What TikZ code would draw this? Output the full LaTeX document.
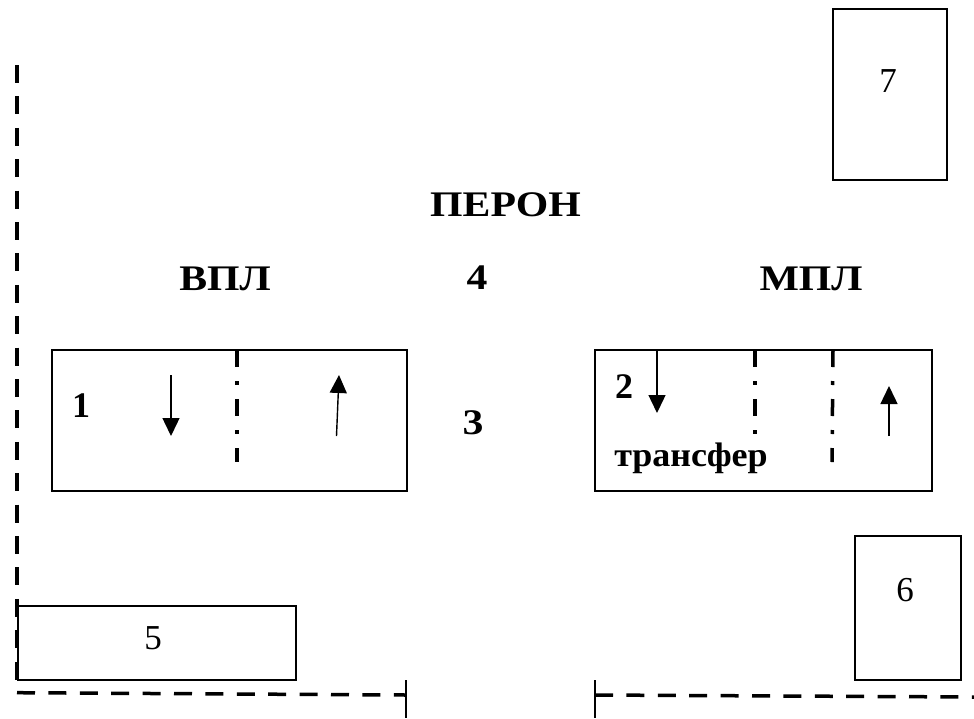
\documentclass[tikz,border=0pt]{standalone}
\usepackage{fontspec}
\setmainfont{Liberation Serif}
\newfontfamily\wideserif[FakeStretch=1.16]{Liberation Serif}
\newfontfamily\midserif[FakeStretch=1.06]{Liberation Serif}
\usetikzlibrary{arrows.meta}
\tikzset{
  box/.style={draw=black,line width=2pt,inner sep=0pt,outer sep=0pt,anchor=north west,fill=none},
  titletext/.style={font=\wideserif\bfseries\fontsize{36}{36}\selectfont,inner sep=0pt,anchor=base},
  boldnum/.style={font=\bfseries\fontsize{36}{36}\selectfont,inner sep=0pt,anchor=base},
  plainnum/.style={font=\fontsize{35}{35}\selectfont,inner sep=0pt,anchor=base},
  transfertext/.style={font=\midserif\bfseries\fontsize{34}{34}\selectfont,inner sep=0pt,anchor=base},
  boundary/.style={line width=3.5pt,dash pattern=on 18pt off 13.4pt},
  tick/.style={line width=2pt},
  zone/.style={line width=3.5pt,dash pattern=on 17pt off 14pt on 4pt off 14pt},
  flow/.style={line width=1.4pt,-{Triangle[length=18pt,width=17pt]}},
}
\begin{document}
\begin{tikzpicture}[x=1pt,y=-1pt]
\useasboundingbox[fill=white] (0,0) rectangle (974,718);
% boxes
\node[box,minimum width=355pt,minimum height=141pt] (b1) at (52,350) {};
\node[box,minimum width=337pt,minimum height=141pt] (b2) at (595,350) {};
\node[box,minimum width=278pt,minimum height=74pt] (b5) at (18,606) {};
\node[box,minimum width=106pt,minimum height=144pt] (b6) at (855,536) {};
\node[box,minimum width=114pt,minimum height=171pt] (b7) at (833,9) {};
% coordinates
\coordinate (lt) at (17,65);
\coordinate (lb) at (17,680);
\coordinate (hl) at (17,692.7);
\coordinate (hm) at (406,695);
\coordinate (hn) at (595,695);
\coordinate (hr) at (974,697);
\coordinate (t1) at (406,680);
\coordinate (t2) at (406,718);
\coordinate (t3) at (595,680);
\coordinate (t4) at (595,718);
\coordinate (z1a) at (237,350);
\coordinate (z1b) at (237,462);
\coordinate (z2a) at (755,350);
\coordinate (z2b) at (755,434);
\coordinate (z3a) at (833,350);
\coordinate (z3b) at (832,462);
\coordinate (a1a) at (171,375);
\coordinate (a1b) at (171,436);
\coordinate (a2a) at (336.5,436);
\coordinate (a2b) at (339,375);
\coordinate (a3a) at (657,350);
\coordinate (a3b) at (657,413);
\coordinate (a4a) at (889,436);
\coordinate (a4b) at (889,386);
% boundary
\draw[boundary] (lt) -- (lb);
\draw[boundary] (hl) -- (hm);
\draw[boundary] (hn) -- (hr);
\draw[tick] (t1) -- (t2);
\draw[tick] (t3) -- (t4);
% zones
\draw[zone] (z1a) -- (z1b);
\draw[zone] (z2a) -- (z2b);
\draw[zone] (z3a) -- (z3b);
% arrows
\draw[flow] (a1a) -- (a1b);
\draw[flow] (a2a) -- (a2b);
\draw[flow] (a3a) -- (a3b);
\draw[flow] (a4a) -- (a4b);
% labels
\node[titletext] (peron) at (505.5,216) {ПЕРОН};
\node[titletext] (vpl) at (225,290) {ВПЛ};
\node[titletext] (mpl) at (811,290) {МПЛ};
\node[titletext] (n4) at (477,289) {4};
\node[titletext] (n3) at (473,434) {3};
\node[boldnum] (n1) at (81,417) {1};
\node[boldnum] (n2) at (624,398) {2};
\node[transfertext] (tr) at (691,466) {трансфер};
\node[plainnum] (n5) at (153,649) {5};
\node[plainnum] (n6) at (905,601) {6};
\node[plainnum] (n7) at (888,92) {7};
\end{tikzpicture}
\end{document}
